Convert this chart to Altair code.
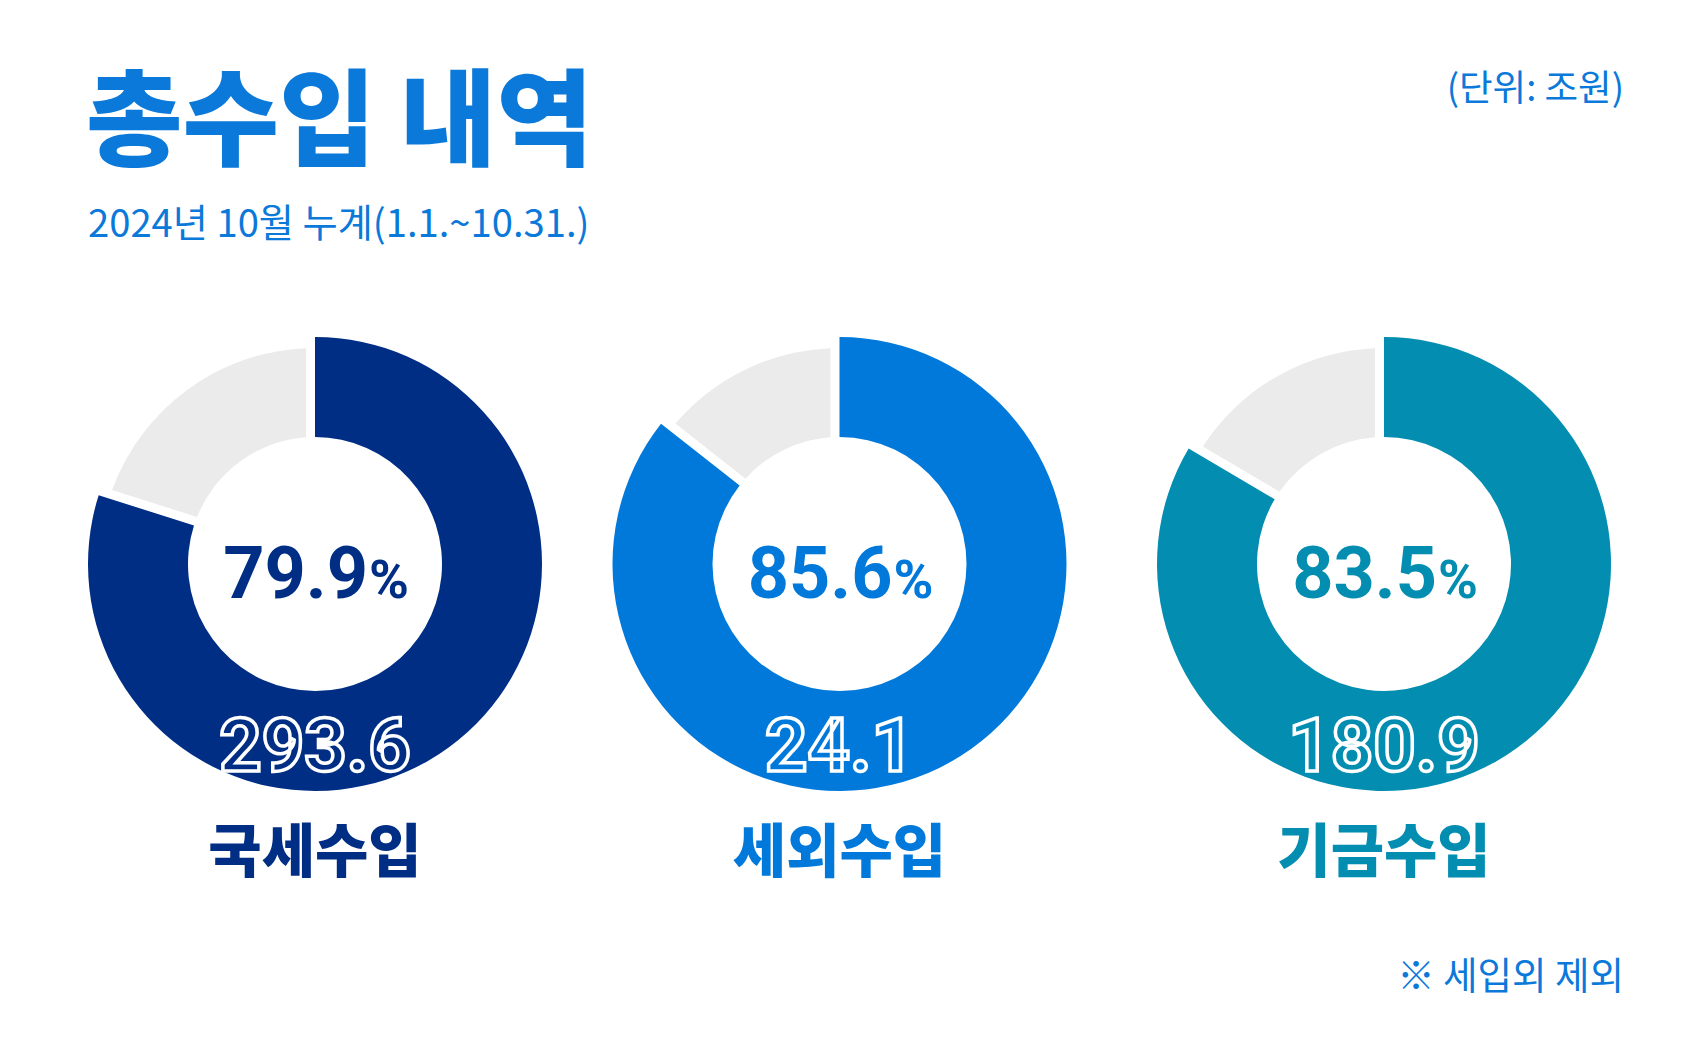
import math
import altair as alt
import pandas as pd

# ---- data ----
categories = ["국세수입", "세외수입", "기금수입"]
percents = [79.9, 85.6, 83.5]          # 진도율 (%)
amounts = [293.6, 24.1, 180.9]         # 조원
positions = [0, 1, 2]
colors = ["#002E85", "#0079DB", "#038DB0"]

title_text = "총수입 내역"
subtitle_text = "2024년 10월 누계(1.1.~10.31.)"
unit_text = "(단위: 조원)"
note_text = "※ 세입외 제외"

W, H = 1708, 1041
CY = 564
BLUE = "#0A79D9"
GREY = "#EBEBEB"
KR = "Noto Sans CJK KR"
NUM = "Roboto"

df = pd.DataFrame({"cat": categories, "pct": percents, "amount": amounts, "pos": positions})

base = alt.Chart(df).transform_calculate(zero="0", full="100")

xenc = alt.X("pos:Q", stack=None,
             scale=alt.Scale(domain=[0, 1, 2], range=[315, 839.5, 1384], nice=False, zero=False),
             axis=None)
color_enc = alt.Color("cat:N", scale=alt.Scale(domain=categories, range=colors), legend=None)
theta_scale = alt.Scale(domain=[0, 100], range=[0, 2 * math.pi])

grey = base.mark_arc(innerRadius=127, outerRadius=216, padAngle=0.072, color=GREY).encode(
    x=xenc, y=alt.value(CY),
    theta=alt.Theta("pct:Q", stack=None, scale=theta_scale),
    theta2=alt.Theta2("full:Q"),
)

main = base.mark_arc(innerRadius=127, outerRadius=227).encode(
    x=xenc, y=alt.value(CY),
    theta=alt.Theta("zero:Q", stack=None, scale=theta_scale),
    theta2=alt.Theta2("pct:Q"),
    color=color_enc,
)

K = 53
pct_num = base.mark_text(font=NUM, fontWeight="bold", fontSize=72, align="right", baseline="alphabetic", dx=K).encode(
    x=xenc, y=alt.value(598), text=alt.Text("pct:Q", format=".1f"), color=color_enc
)
pct_sign = base.mark_text(font=NUM, fontWeight="bold", fontSize=54, align="left", baseline="alphabetic", dx=K + 1).encode(
    x=xenc, y=alt.value(598), text=alt.value("%"), color=color_enc
)

amount_txt = base.mark_text(font=NUM, fontWeight="bold", fontSize=74, align="center", baseline="alphabetic",
                            stroke="white", strokeWidth=3.5).encode(
    x=xenc, y=alt.value(771), text=alt.Text("amount:Q", format=".1f"), color=color_enc
)

label_txt = base.mark_text(font=KR, fontWeight=900, fontSize=58, align="center", baseline="alphabetic").encode(
    x=xenc, y=alt.value(872), text="cat:N", color=color_enc
)

def note(txt, x, y, size, weight, align):
    return alt.Chart(pd.DataFrame({"t": [txt]})).mark_text(
        font=KR, fontSize=size, fontWeight=weight, align=align, baseline="alphabetic", color=BLUE
    ).encode(x=alt.value(x), y=alt.value(y), text="t:N")

title = note(title_text, 86, 157, 105, 900, "left")
subtitle = note(subtitle_text, 88, 237, 38.2, "normal", "left")
unit = note(unit_text, 1624, 101, 36.5, "normal", "right")
foot = note(note_text, 1624, 989, 37.5, "normal", "right")

chart = alt.layer(grey, main, pct_num, pct_sign, amount_txt, label_txt, title, subtitle, unit, foot).properties(
    width=W, height=H, background="white", padding=0,
    autosize=alt.AutoSizeParams(type="none"),
).configure_view(stroke=None)

chart.save("out.html", embed_options={"renderer": "svg", "actions": False})
